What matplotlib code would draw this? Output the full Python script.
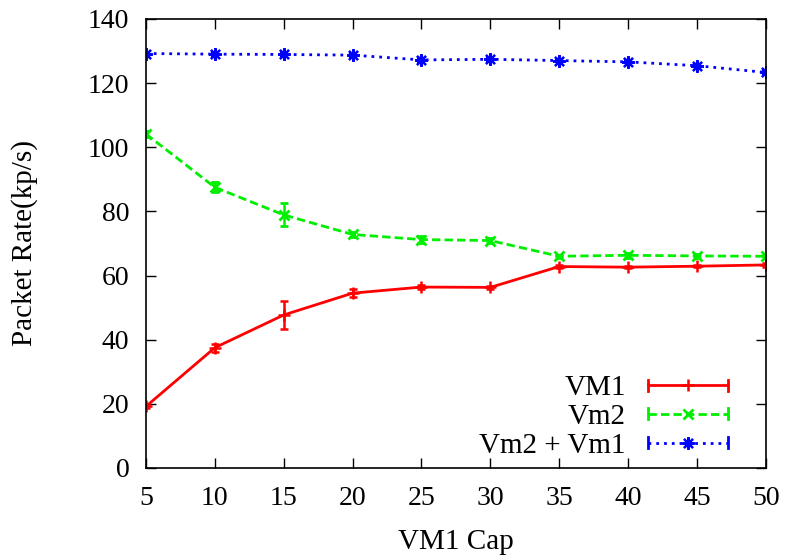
import numpy as np
import matplotlib.pyplot as plt
from matplotlib.legend_handler import HandlerBase
from matplotlib.lines import Line2D
from matplotlib.container import ErrorbarContainer

# VM1 cap settings and measured packet rates (kp/s)
caps = [5, 10, 15, 20, 25, 30, 35, 40, 45, 50]
vm1 = [19.2, 37.5, 47.7, 54.5, 56.4, 56.3, 62.8, 62.6, 62.9, 63.3]
vm1_err = [0.6, 1.2, 4.3, 1.3, 0.5, 0.4, 0.4, 0.4, 0.4, 0.5]
vm2 = [104.1, 87.5, 78.9, 72.8, 71.2, 70.9, 66.0, 66.3, 66.1, 66.0]
vm2_err = [1.0, 1.5, 3.6, 0.8, 1.2, 0.7, 0.5, 0.8, 0.5, 0.5]
total = [129.2, 129.0, 128.9, 128.7, 127.2, 127.4, 127.0, 126.6, 125.4, 123.3]
total_err = [0.5, 0.5, 0.5, 0.5, 0.5, 0.5, 0.5, 0.5, 0.5, 0.5]

plt.rcParams['font.family'] = ['Liberation Serif', 'DejaVu Serif']

styles = {
    'VM1': dict(color='#ff0000', ls='-', marker='+', ms=8, mew=1.8),
    'Vm2': dict(color='#00ee00', ls=(0, (3, 1.5)), marker='x', ms=7, mew=2),
    'Vm2 + Vm1': dict(color='#0000ff', ls=(0, (1, 1.8)), marker=(8, 2, 0),
                      ms=9, mew=1.6),
}


# gnuplot-like key sample: horizontal bar with end caps and point in the middle
class GnuErrHandler(HandlerBase):
    def create_artists(self, legend, orig, xd, yd, w, h, fontsize, trans):
        st = styles[orig.get_label()]
        y = yd + h / 2
        arts = [Line2D([xd, xd + w], [y, y], color=st['color'], ls=st['ls'], lw=2)]
        for x in (xd, xd + w):
            arts.append(Line2D([x, x], [y - 4, y + 4], color=st['color'], lw=2))
        arts.append(Line2D([xd + w / 2], [y], color=st['color'], ls='none',
                           marker=st['marker'], ms=st['ms'], mew=st['mew']))
        for a in arts:
            a.set_transform(trans)
        return arts


fig = plt.figure(figsize=(7.87, 5.6), dpi=100)
ax = fig.add_axes([0.1855, 0.1643, 0.7875, 0.802])

for lab, ys, es in [('VM1', vm1, vm1_err), ('Vm2', vm2, vm2_err),
                    ('Vm2 + Vm1', total, total_err)]:
    st = styles[lab]
    ax.errorbar(caps, ys, yerr=es, color=st['color'], ls=st['ls'], lw=2,
                marker=st['marker'], ms=st['ms'], mew=st['mew'], capsize=3,
                elinewidth=1.8, capthick=1.8, label=lab)

ax.set_xlim(5, 50)
ax.set_ylim(0, 140)
ax.set_xticks(caps)
ax.set_yticks(np.arange(0, 141, 20))
ax.tick_params(direction='in', length=7, width=1, top=True, right=True,
               labelsize=20)
ax.tick_params(axis='y', pad=12)
ax.tick_params(axis='x', pad=13)
for s in ax.spines.values():
    s.set_linewidth(1.2)

ax.set_xlabel('VM1 Cap', fontsize=21, labelpad=13)
ax.set_ylabel('Packet Rate(kp/s)', fontsize=21, labelpad=36)

leg = ax.legend(loc='lower right', bbox_to_anchor=(0.972, -0.025), frameon=False,
                markerfirst=False, fontsize=21, handlelength=2.75,
                labelspacing=0.08, handletextpad=0.75, borderaxespad=0.3,
                handler_map={ErrorbarContainer: GnuErrHandler()})
leg._legend_box.align = 'right'
for t in leg.get_texts():
    t.set_ha('right')

fig.savefig('out.png', dpi=100)
